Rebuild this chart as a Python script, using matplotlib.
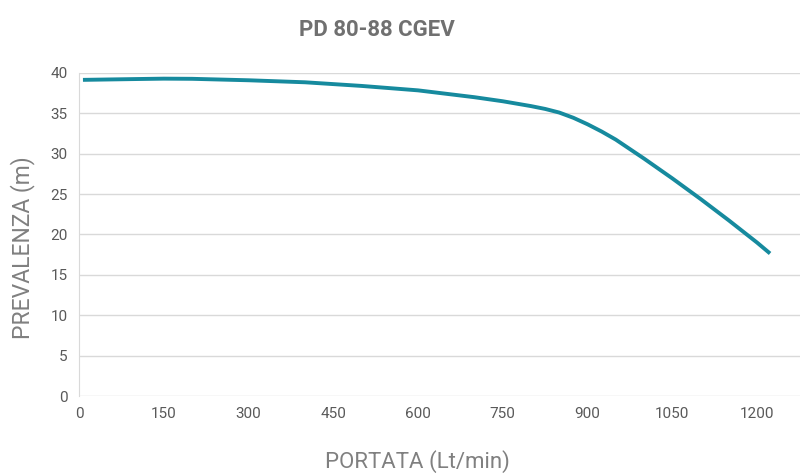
import matplotlib
matplotlib.use("Agg")
import matplotlib.pyplot as plt

# Curve (Lt/min vs m)
portata = [7, 100, 150, 200, 300, 400, 500, 600, 700, 750, 800, 825, 850,
           875, 900, 925, 950, 1000, 1050, 1100, 1150, 1200, 1223]
prevalenza = [39.15, 39.25, 39.3, 39.28, 39.1, 38.85, 38.4, 37.85, 37.0,
              36.5, 35.9, 35.55, 35.1, 34.45, 33.65, 32.75, 31.75, 29.4,
              26.95, 24.4, 21.75, 19.0, 17.65]
x_ticks = [0, 150, 300, 450, 600, 750, 900, 1050, 1200]
y_ticks = [0, 5, 10, 15, 20, 25, 30, 35, 40]

GREY = "#595959"
LABEL_GREY = "#808080"
LINE = "#168a9e"

plt.rcParams["font.family"] = ["Roboto", "DejaVu Sans"]

fig = plt.figure(figsize=(8.02, 4.73), dpi=100)
ax = fig.add_axes([79 / 802, 1 - 396 / 473, 721 / 802, 323 / 473])

ax.plot(portata, prevalenza, color=LINE, linewidth=2.8,
        solid_capstyle="butt", solid_joinstyle="round")

ax.set_xlim(0, 1276)
ax.set_ylim(0, 40)
ax.set_xticks(x_ticks)
ax.set_yticks(y_ticks)
ax.grid(axis="y", color="#d9d9d9", linewidth=1)
ax.set_axisbelow(True)
for s in ["top", "right", "bottom"]:
    ax.spines[s].set_visible(False)
ax.spines["left"].set_color("#d9d9d9")
ax.tick_params(length=0, labelsize=11, colors=GREY, pad=8)

# axis titles placed by centre, like the reference
ax.set_xlabel("PORTATA (Lt/min)", fontsize=16, color=LABEL_GREY, va="center")
ax.xaxis.set_label_coords(0.469, -0.204)
ax.set_ylabel("PREVALENZA (m)", fontsize=16.5, color=LABEL_GREY, va="center")
ax.yaxis.set_label_coords(-0.079, 0.46)
fig.text(377 / 802, 1 - 30 / 473, "PD 80-88 CGEV", ha="center", va="center",
         fontsize=16, fontweight="bold", color="#707070")

fig.savefig("out.png", dpi=100, facecolor="white")
